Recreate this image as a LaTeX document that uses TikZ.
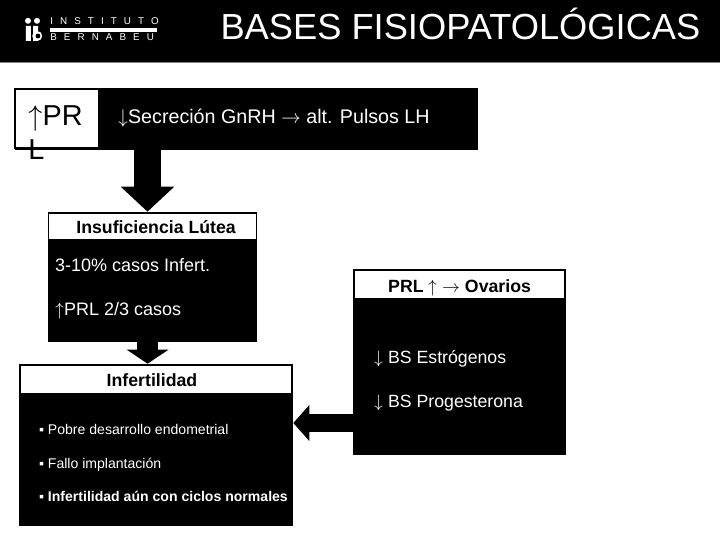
\documentclass[tikz,border=0pt]{standalone}
\usepackage{fontspec}
\setmainfont{Liberation Sans}
\newfontfamily\logofont[LetterSpace=72]{Liberation Sans}
\newfontfamily\arrowfont{Latin Modern Math}
\usetikzlibrary{positioning,arrows.meta,calc}

\begin{document}
\begin{tikzpicture}
    % Styles
    \tikzset{
        band/.style={rectangle, fill=black, inner sep=0pt, minimum width=18cm, minimum height=1.55cm},
        panel/.style={rectangle, fill=black, inner sep=0pt},
        headbox/.style={rectangle, draw=black, line width=1.4pt, fill=white, inner sep=0pt, text height=0.35cm, text depth=0pt, font=\fontsize{12.6}{14}\selectfont\bfseries},
        bodytext/.style={text=white, inner sep=0pt, anchor=base west},
        smalltext/.style={bodytext, font=\fontsize{10}{12}\selectfont},
        logotext/.style={text=white, inner sep=0pt, anchor=base west, font=\fontsize{7}{9}\selectfont\logofont},
        fatarrow/.style n args={3}{line width=#1, -{Triangle[length=#2, width=#3]}}
    }
    \useasboundingbox (0,0) rectangle (18,13.5);

    % Top band
    \node[band] (band) at (9,12.725) {};
    \draw[gray, line width=0.8pt] (band.south west) -- (band.south east);
    \node[text=white, inner sep=0pt, font=\fontsize{25.8}{28}\selectfont] (title) at (11.51,12.9) {BASES FISIOPATOLÓGICAS};

    % Logo
    \fill[white] (0.7,12.98) circle (0.075) (0.925,12.98) circle (0.075);
    \fill[white] (0.65,12.475) rectangle (0.775,12.85) (0.825,12.475) rectangle (0.95,12.85);
    \fill[white] (0.93,12.6) circle (0.125);
    \fill[black] (0.95,12.6) circle (0.06);
    \node[logotext] (logoa) at (1.25,12.875) {INSTITUTO};
    \node[logotext] (logob) at (1.25,12.475) {BERNABEU};
    \fill[white] (1.25,12.8) rectangle (3.925,12.7);

    % Top bar
    \node[panel, minimum width=11.575cm, minimum height=1.55cm] (bar) at (6.16,10.525) {};
    \node[draw=black, line width=1.4pt, fill=white, inner sep=0pt, minimum width=2.1cm, minimum height=1.475cm] (prlbox) at (1.425,10.5375) {};
    \node[inner sep=0pt, anchor=base west, align=left, font=\fontsize{20.5}{24.2}\selectfont] (prl) at (0.7,9.5) {{\arrowfont ↑}PR\\L};
    \node[bodytext, font=\fontsize{14}{16}\selectfont] (gnrh) at (2.95,10.4) {{\arrowfont ↓}Secreción GnRH {\arrowfont →} alt. Pulsos LH};

    % Insuficiencia
    \node[panel, minimum width=5.225cm, minimum height=3.25cm] (lutea) at (3.8125,6.575) {};
    \node[headbox, minimum width=5.2cm, minimum height=0.68cm, below=0pt of lutea.north] (luteahead) {\hspace*{0.18cm}Insuficiencia Lútea};
    \node[bodytext, font=\fontsize{12.8}{14}\selectfont] (casos) at (1.37,6.7) {3-10\% casos Infert.};
    \node[bodytext, font=\fontsize{12.8}{14}\selectfont] (prlcasos) at (1.37,5.6) {{\arrowfont ↑}PRL 2/3 casos};

    % Infertilidad
    \node[panel, minimum width=6.85cm, minimum height=4.05cm] (infert) at (3.9,2.375) {};
    \node[headbox, minimum width=6.8cm, minimum height=0.74cm, below=0pt of infert.north] (inferthead) {Infertilidad\hspace*{0.2cm}};
    \node[smalltext] (pobre) at (0.97,2.63) {▪ Pobre desarrollo endometrial};
    \node[smalltext] (fallo) at (0.97,1.8) {▪ Fallo implantación};
    \node[smalltext] (ciclos) at (0.97,0.96) {▪ \textbf{Infertilidad aún con ciclos normales}};

    % Ovarios
    \node[panel, minimum width=5.325cm, minimum height=4.65cm] (ovarios) at (11.49,4.45) {};
    \node[headbox, text height=0.4cm, minimum width=5.28cm, minimum height=0.72cm, below=0pt of ovarios.north] (ovarioshead) {PRL {\arrowfont ↑} {\arrowfont →} Ovarios};
    \node[bodytext, font=\fontsize{12.6}{14}\selectfont] (estro) at (9.35,4.4) {{\arrowfont ↓} BS Estrógenos};
    \node[bodytext, font=\fontsize{12.6}{14}\selectfont] (proge) at (9.35,3.3) {{\arrowfont ↓} BS Progesterona};

    % Arrows
    \draw[fatarrow={0.675cm}{0.625cm}{1.3cm}] ([xshift=-0.125cm]luteahead.north |- bar.south) -- ([xshift=-0.125cm]luteahead.north);
    \draw[fatarrow={0.525cm}{0.35cm}{1.025cm}] ([xshift=-0.21cm]inferthead.north |- lutea.south) -- ([xshift=-0.21cm]inferthead.north);
    \draw[fatarrow={0.45cm}{0.4cm}{0.875cm}] (ovarios.west |- 0,2.925) -- (infert.east |- 0,2.925);
\end{tikzpicture}
\end{document}
